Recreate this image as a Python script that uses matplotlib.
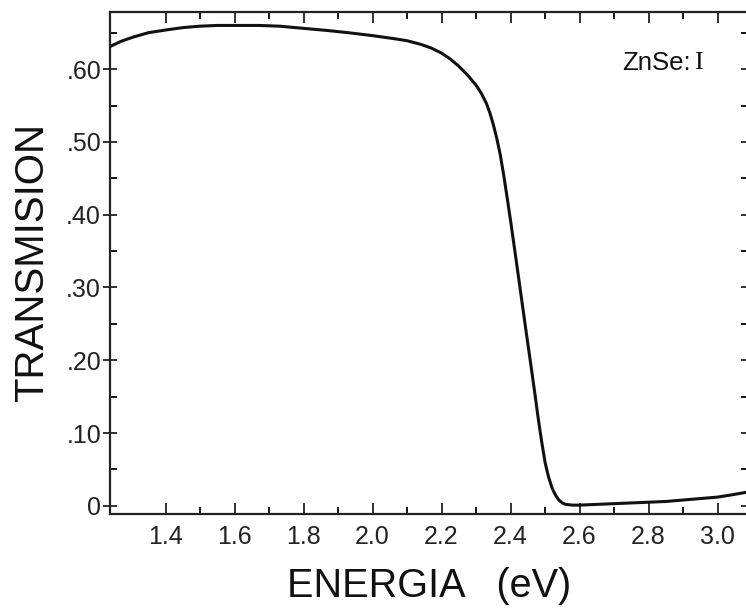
import numpy as np
import matplotlib
matplotlib.use('Agg')
import matplotlib.pyplot as plt
from matplotlib.ticker import FixedLocator

energia = [1.239, 1.27, 1.306, 1.35, 1.404, 1.45, 1.50, 1.55, 1.60, 1.67, 1.73, 1.80,
           1.87, 1.93, 2.00, 2.06, 2.10, 2.14, 2.17, 2.20, 2.225, 2.25, 2.275, 2.30,
           2.315, 2.33, 2.34, 2.35, 2.36, 2.37, 2.38, 2.39, 2.40, 2.415, 2.43, 2.445, 2.46,
           2.47, 2.48, 2.49, 2.50, 2.51, 2.52, 2.53, 2.54, 2.55, 2.56, 2.58, 2.60, 2.65,
           2.70, 2.75, 2.80, 2.85, 2.90, 2.95, 3.00, 3.04, 3.088]
transmision = [0.631, 0.638, 0.644, 0.650, 0.654, 0.657, 0.659, 0.660, 0.660, 0.660, 0.659, 0.656,
               0.653, 0.650, 0.646, 0.642, 0.639, 0.634, 0.629, 0.622, 0.614, 0.604, 0.592, 0.578,
               0.567, 0.553, 0.540, 0.524, 0.505, 0.483, 0.455, 0.424, 0.392, 0.342, 0.291, 0.240, 0.190,
               0.156, 0.121, 0.089, 0.060, 0.040, 0.025, 0.015, 0.008, 0.004, 0.002, 0.001, 0.001,
               0.002, 0.003, 0.004, 0.005, 0.006, 0.008, 0.010, 0.012, 0.015, 0.019]

x_major = [1.4, 1.6, 1.8, 2.0, 2.2, 2.4, 2.6, 2.8, 3.0]
x_labels = ['1.4', '1.6', '1.8', '2.0', '2.2', '2.4', '2.6', '2.8', '3.0']
x_minor = [1.5, 1.7, 1.9, 2.1, 2.3, 2.5, 2.7, 2.9]
y_major = [0, 0.1, 0.2, 0.3, 0.4, 0.5, 0.6]
y_labels = ['0', '.10', '.20', '.30', '.40', '.50', '.60']
y_minor = [0.05, 0.15, 0.25, 0.35, 0.45, 0.55, 0.65]

plt.rcParams['font.family'] = ['Liberation Sans', 'DejaVu Sans']

fig = plt.figure(figsize=(7.46, 6.11), dpi=100)
ax = fig.add_axes([0.1475, 0.159, 0.855, 0.822])

ax.plot(energia, transmision, color='#111111', lw=2.2, solid_capstyle='round',
        solid_joinstyle='round')

ax.set_xlim(1.239, 3.088)
ax.set_ylim(-0.011, 0.679)

ax.xaxis.set_major_locator(FixedLocator(x_major))
ax.xaxis.set_minor_locator(FixedLocator(x_minor))
ax.set_xticklabels(x_labels)
ax.yaxis.set_major_locator(FixedLocator(y_major))
ax.yaxis.set_minor_locator(FixedLocator(y_minor))
ax.set_yticklabels(y_labels)

ax.tick_params(axis='x', which='major', direction='in', length=8, width=1.3,
               top=True, labelsize=18, pad=8, colors='#222222')
ax.tick_params(axis='x', which='minor', direction='in', length=5, width=1.3, top=True)
ax.tick_params(axis='y', which='major', direction='inout', length=10, width=1.3,
               right=True, labelsize=18, pad=1.5, colors='#222222')
ax.tick_params(axis='y', which='minor', direction='in', length=5, width=1.3, right=True)

for s in ax.spines.values():
    s.set_linewidth(1.6)
    s.set_color('#222222')

ax.set_ylabel('TRANSMISION', fontsize=29, color='#111111', labelpad=11)
ax.set_xlabel('ENERGIA   (eV)', fontsize=28.5, color='#111111', labelpad=13)

t1 = ax.text(0.803, 0.898, 'ZnSe:', transform=ax.transAxes, fontsize=18.5,
             color='#111111', ha='left', va='center')
ax.annotate('I', xy=(1, 0.5), xycoords=t1, xytext=(2, 0), textcoords='offset points',
            fontsize=19, family='Liberation Serif', color='#111111', ha='left', va='center')

fig.savefig('out.png', dpi=100)
